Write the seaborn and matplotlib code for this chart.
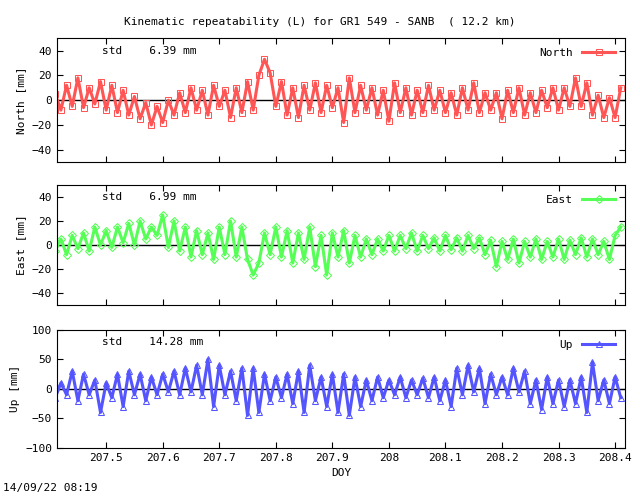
import numpy as np
import pandas as pd
import matplotlib
matplotlib.use('Agg')
import matplotlib.pyplot as plt
import seaborn as sns

# DOY sample times (every 0.01 day)
doy = [round(207.41 + 0.01 * i, 2) for i in range(101)]

north = [5, -8, 12, -5, 18, -6, 10, -3, 15, -8,
         12, -10, 8, -12, 3, -15, -2, -20, -5, -18,
         0, -12, 6, -10, 10, -8, 8, -12, 12, -5,
         8, -14, 10, -10, 15, -8, 20, 33, 22, -5,
         15, -12, 10, -14, 12, -8, 14, -10, 12, -6,
         10, -18, 18, -10, 12, -8, 10, -12, 8, -17,
         14, -10, 10, -12, 8, -10, 12, -8, 8, -10,
         6, -12, 10, -8, 14, -10, 6, -8, 6, -15,
         8, -10, 10, -12, 6, -10, 8, -6, 10, -8,
         10, -5, 18, -5, 14, -12, 4, -14, 2, -14,
         10]
east = [-5, 5, -8, 8, -3, 10, -5, 15, 0, 12,
        -2, 15, 2, 18, 0, 20, 5, 15, 8, 25,
        -2, 20, -5, 15, -10, 12, -8, 10, -12, 15,
        -8, 20, -10, 15, -12, -25, -15, 10, -8, 15,
        -10, 12, -15, 10, -12, 15, -18, 8, -25, 10,
        -10, 12, -15, 8, -10, 5, -8, 5, -5, 8,
        -5, 8, -3, 10, -5, 8, -3, 6, -5, 8,
        -4, 6, -5, 8, -3, 6, -8, 4, -18, 3,
        -12, 5, -15, 3, -10, 5, -12, 3, -10, 5,
        -12, 4, -8, 6, -10, 5, -8, 3, -12, 8,
        15]
up = [-15, 10, -10, 30, -20, 25, -10, 15, -40, 10,
      -15, 25, -30, 30, -10, 25, -20, 20, -10, 25,
      -5, 30, -10, 35, -5, 40, -10, 50, -30, 40,
      -10, 30, -20, 35, -45, 35, -40, 25, -20, 20,
      -15, 25, -25, 30, -40, 40, -20, 20, -30, 25,
      -40, 25, -45, 20, -30, 15, -20, 20, -15, 15,
      -10, 20, -15, 15, -10, 18, -15, 20, -20, 15,
      -30, 35, -10, 40, -5, 35, -25, 25, -10, 20,
      -10, 35, -5, 30, -25, 15, -35, 20, -25, 15,
      -30, 15, -25, 20, -40, 45, -20, 15, -25, 20,
      -15]

df = pd.DataFrame({'doy': doy, 'North': north, 'East': east, 'Up': up})

plt.rcParams['font.family'] = 'DejaVu Sans Mono'
plt.rcParams['font.size'] = 8

fig = plt.figure(figsize=(6.4, 4.96), dpi=100)
panels = [
    ('North', '#ff5555', 's', (-50, 50), [-40, -20, 0, 20, 40], '6.39 mm', [0.089, 0.673, 0.888, 0.250]),
    ('East', '#55ff55', 'D', (-50, 50), [-40, -20, 0, 20, 40], '6.99 mm', [0.089, 0.385, 0.888, 0.242]),
    ('Up', '#5555ff', '^', (-100, 100), [-100, -50, 0, 50, 100], '14.28 mm', [0.089, 0.097, 0.888, 0.238]),
]
for name, col, mk, ylim, yt, std, pos in panels:
    ax = fig.add_axes(pos)
    ax.axhline(0, color='black', lw=1, zorder=0)
    sns.lineplot(data=df, x='doy', y=name, ax=ax, color=col, marker=mk, markersize=4,
                 markerfacecolor='none', markeredgecolor=col, lw=2.2, label=name)
    ax.set_xlim(207.413, 208.418)
    ax.set_ylim(*ylim)
    ax.set_yticks(yt)
    ax.set_xticks([207.5, 207.6, 207.7, 207.8, 207.9, 208.0, 208.1, 208.2, 208.3, 208.4])
    ax.tick_params(direction='in', top=True, right=True, length=4)
    ax.set_ylabel(f'{name} [mm]')
    ax.text(0.08, 0.9, f'std    {std}', transform=ax.transAxes, va='center')
    ax.legend(loc='upper right', frameon=False, markerfirst=False, handlelength=3)
    if name != 'Up':
        ax.set_xticklabels([])
        ax.set_xlabel('')
    else:
        ax.set_xticklabels(['207.5', '207.6', '207.7', '207.8', '207.9', '208',
                            '208.1', '208.2', '208.3', '208.4'])
        ax.set_xlabel('DOY')

fig.suptitle('Kinematic repeatability (L) for GR1 549 - SANB  ( 12.2 km)', y=0.965, fontsize=8)
fig.text(0.005, 0.01, '14/09/22 08:19')
fig.savefig('out.png', dpi=100)
